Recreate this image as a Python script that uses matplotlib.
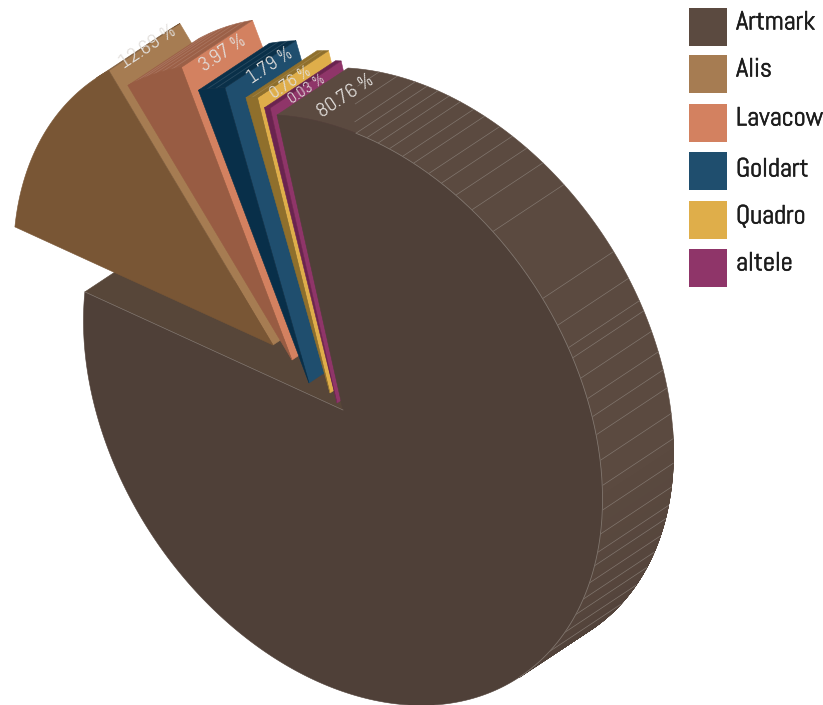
import numpy as np
import matplotlib
matplotlib.use('Agg')
import matplotlib.pyplot as plt
import matplotlib.patheffects as pe
from matplotlib.colors import to_rgb

# --- data ---
names = ['Artmark', 'Alis', 'Lavacow', 'Goldart', 'Quadro', 'altele']
shares = [80.76, 12.69, 3.97, 1.79, 0.76, 0.03]
labels = ['80.76 %', '12.69 %', '3.97 %', '1.79 %', '0.76 %', '0.03 %']

# --- colours ---
wall_colors = ['#5b4a40', '#a67c52', '#d38160', '#1f4e6e', '#dfae4a', '#8f3569']
face_colors = ['#4f4038', '#795635', '#985c43', '#082f49', '#8f6f2c', '#6a2350']
rim_colors = ['#5b4a40', '#795635', '#9c6047', '#0a3049', '#8f6f2c', '#6a2350']
inner_wall = '#574639'
hair = '#81766e'

# --- projection of the pie, in pixels ---
center = np.array([343.0, 410.0])
axis_a = np.array([-66.0, -295.0])
axis_b = np.array([251.0, 14.6])
depth = np.array([71.0, -47.0])
rim_from, rim_to = -28.1, 151.9   # part of the rim that faces the viewer
explode = [(0, 0), (-70, -65), (-51, -50), (-34, -27), (-13, -17), (-6, -7)]
min_sweep = 1.3
small_scale = 0.98

# facets of the big rim, degrees along the ellipse
facets = [17.6, 20, 22.5, 25, 28, 30.5, 34, 37, 40.5, 44.5, 50, 65, 70.5, 75, 77, 81, 85, 88.5,
          92, 97, 102, 107, 112, 116, 119, 123, 127, 131, 136, 142]
short_facets = [(15, 0.15), (11, 0.41), (7, 0.7)]

# label placement
label_xy = [(346, 96), (148, 47), (223, 54), (270, 66), (291, 83), (307, 89)]
label_px = [20.5, 20.5, 20, 19, 17.5, 15.5]
legend_y = [8, 55, 104, 152, 201, 249]
legend_text_y = [23, 70, 119, 170, 217, 264]

plt.rcParams['font.family'] = ['Abel', 'Barlow Condensed', 'Liberation Sans', 'DejaVu Sans']

fig = plt.figure(figsize=(8.23, 7.05), dpi=100)
ax = fig.add_axes([0, 0, 1, 1])
ax.set_xlim(0, 823)
ax.set_ylim(705, 0)
ax.axis('off')


def ell(deg, origin=center):
    t = np.radians(deg)
    t = np.atleast_1d(t)
    return origin + np.outer(np.cos(t), axis_a) + np.outer(np.sin(t), axis_b)


def poly(pts, color, z, lw=0.4):
    ax.fill(pts[:, 0], pts[:, 1], facecolor=color, edgecolor=color, lw=lw, zorder=z)


def mix(c1, c2, t):
    return tuple(np.array(to_rgb(c1)) * (1 - t) + np.array(to_rgb(c2)) * t)


# angles of the slices
sweeps = [s * 3.6 for s in shares]
sweeps[5] = max(sweeps[5], min_sweep)
for i in range(1, 5):
    sweeps[i] *= small_scale
starts = [0.0]
for s in sweeps[:-1]:
    starts.append(starts[-1] + s)

# back wall of the big slice, seen behind the exploded ones
end0 = ell(sweeps[0])[0]
poly(np.array([end0, center, center + depth, end0 + depth]), inner_wall, 1)

# exploded slices, back to front
for i in range(1, 6):
    org = center + np.array(explode[i])
    a0, a1 = starts[i], starts[i] + sweeps[i]
    z = 2 + i
    rim_end = ell(a1, org)[0]
    poly(np.array([org, rim_end, rim_end + depth, org + depth]), wall_colors[i], z)
    lo = max(a0, rim_from + 360)
    if a1 > lo:
        th = np.linspace(lo, a1, 30)
        front = ell(th, org)
        poly(np.vstack([front, (front + depth)[::-1]]), rim_colors[i], z)
        n = max(int((a1 - lo) / 2.6), 0)
        for deg in np.linspace(lo, a1, n + 2)[1:-1]:
            p = ell(deg, org)[0]
            ax.plot([p[0], p[0] + depth[0]], [p[1], p[1] + depth[1]],
                    color='white', alpha=0.13, lw=0.6, zorder=z)
    th = np.linspace(a0, a1, 60)
    poly(np.vstack([org[None, :], ell(th, org)]), face_colors[i], z + 0.5)

# rim of the big slice, base shape first so no seams show, then darker towards the lower end
z = 10
th = np.linspace(0, rim_to, 200)
front = ell(th)
poly(np.vstack([front, (front + depth)[::-1]]), rim_colors[0], z)
for d0 in np.arange(100, rim_to, 2.0):
    th = np.linspace(d0, rim_to, 40)
    front = ell(th)
    t = np.clip((d0 - 100) / 52, 0, 1) * 0.85
    poly(np.vstack([front, (front + depth)[::-1]]), mix(rim_colors[0], face_colors[0], t), z)
for deg in facets:
    p = ell(deg)[0]
    ax.plot([p[0], p[0] + depth[0]], [p[1], p[1] + depth[1]], color=hair, lw=0.5, zorder=z + 1)
for deg, frac in short_facets:
    p = ell(deg)[0]
    ax.plot([p[0] + frac * depth[0], p[0] + depth[0]], [p[1] + frac * depth[1], p[1] + depth[1]],
            color=hair, lw=0.5, zorder=z + 1)

# face of the big slice
th = np.linspace(0, sweeps[0], 400)
poly(np.vstack([center[None, :], ell(th)]), face_colors[0], z + 2)
seam = ell(np.linspace(17.6, rim_to, 200))
ax.plot(seam[:, 0], seam[:, 1], color=hair, lw=0.6, zorder=z + 3)
ax.plot([end0[0], center[0]], [end0[1], center[1]], color=hair, lw=0.5, zorder=z + 3)

# percent labels
for i, lab in enumerate(labels):
    ax.text(label_xy[i][0], label_xy[i][1], lab, color='#e2dfdc', fontsize=label_px[i] * 0.72,
            rotation=33.5, rotation_mode='anchor', ha='center', va='center', zorder=20)

# legend
for i, name in enumerate(names):
    ax.add_patch(plt.Rectangle((689, legend_y[i]), 38, 38, facecolor=wall_colors[i],
                               edgecolor='none', zorder=20))
    ax.text(736, legend_text_y[i], name, color='#1c1c1c', fontsize=19, ha='left', va='center',
            zorder=20, path_effects=[pe.withStroke(linewidth=0.4, foreground='#1c1c1c')])

fig.savefig('out.png', dpi=100)
